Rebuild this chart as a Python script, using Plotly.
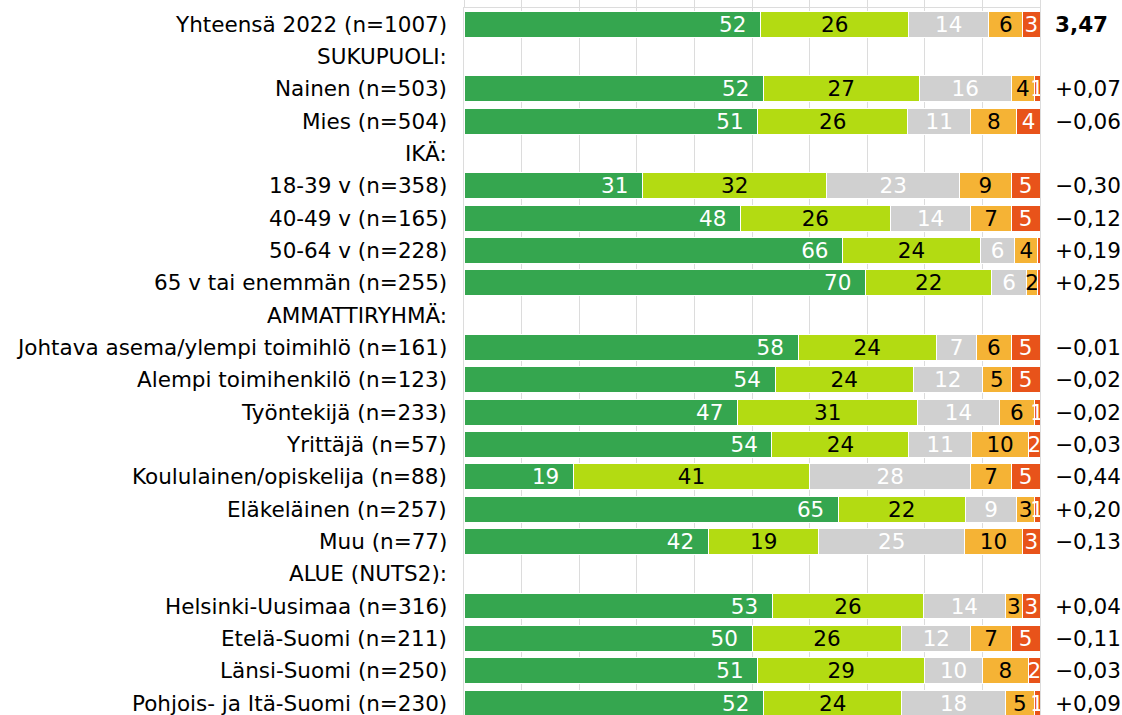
import plotly.graph_objects as go

# ---- data ----
row_labels = [
    "Yhteensä 2022 (n=1007)", "SUKUPUOLI:", "Nainen (n=503)", "Mies (n=504)",
    "IKÄ:", "18-39 v (n=358)", "40-49 v (n=165)", "50-64 v (n=228)",
    "65 v tai enemmän (n=255)", "AMMATTIRYHMÄ:",
    "Johtava asema/ylempi toimihlö (n=161)", "Alempi toimihenkilö (n=123)",
    "Työntekijä (n=233)", "Yrittäjä (n=57)", "Koululainen/opiskelija (n=88)",
    "Eläkeläinen (n=257)", "Muu (n=77)", "ALUE (NUTS2):",
    "Helsinki-Uusimaa (n=316)", "Etelä-Suomi (n=211)", "Länsi-Suomi (n=250)",
    "Pohjois- ja Itä-Suomi (n=230)",
]
# None marks a heading row without a bar
s1 = [52, None, 52, 51, None, 31, 48, 66, 70, None, 58, 54, 47, 54, 19, 65, 42, None, 53, 50, 51, 52]
s2 = [26, None, 27, 26, None, 32, 26, 24, 22, None, 24, 24, 31, 24, 41, 22, 19, None, 26, 26, 29, 24]
s3 = [14, None, 16, 11, None, 23, 14, 6, 6, None, 7, 12, 14, 11, 28, 9, 25, None, 14, 12, 10, 18]
s4 = [6, None, 4, 8, None, 9, 7, 4, 2, None, 6, 5, 6, 10, 7, 3, 10, None, 3, 7, 8, 5]
s5 = [3, None, 1, 4, None, 5, 5, 0.4, 0.4, None, 5, 5, 1, 2, 5, 1, 3, None, 3, 5, 2, 1]
means = ["3,47", "", "+0,07", "−0,06", "", "−0,30", "−0,12", "+0,19", "+0,25", "",
         "−0,01", "−0,02", "−0,02", "−0,03", "−0,44", "+0,20", "−0,13", "",
         "+0,04", "−0,11", "−0,03", "+0,09"]

series = [s1, s2, s3, s4, s5]
colors = ["#35a64f", "#b3db12", "#d0d0d0", "#f5b335", "#e8531a"]
text_colors = ["white", "black", "white", "black", "white"]
anchors = ["end", "middle", "middle", "middle", "middle"]
suffix = ["\u00a0\u2009", "", "", "", ""]

FONT = "Verdana, DejaVu Sans, sans-serif"
FS = 21.5
n = len(row_labels)
ypos = list(range(n))

totals = []
for i in range(n):
    vals = [s[i] for s in series]
    totals.append(sum(vals) if vals[0] is not None else None)

fig = go.Figure()
for k, s in enumerate(series):
    xs, txt = [], []
    for i in range(n):
        if s[i] is None:
            xs.append(None)
            txt.append("")
        else:
            xs.append(s[i] / totals[i] * 100)
            r = round(s[i])
            txt.append(str(r) + suffix[k] if r >= 1 else "")
    fig.add_trace(go.Bar(
        x=xs, y=ypos, orientation="h", width=0.8,
        marker=dict(color=colors[k], line=dict(color="white", width=1)),
        text=txt, textposition="inside", insidetextanchor=anchors[k],
        constraintext="none", textangle=0, cliponaxis=True,
        textfont=dict(family=FONT, size=FS, color=text_colors[k]),
        hoverinfo="skip", showlegend=False,
    ))

# left labels
for i, lab in enumerate(row_labels):
    fig.add_annotation(x=0, xref="paper", y=i, yref="y", text=lab,
                       xanchor="right", yanchor="middle", xshift=-15,
                       showarrow=False,
                       font=dict(family=FONT, size=FS, color="black"))
# right mean values
for i, m in enumerate(means):
    if not m:
        continue
    txt = "<b>%s</b>" % m if i == 0 else m
    fig.add_annotation(x=1, xref="paper", y=i, yref="y", text=txt,
                       xanchor="left", yanchor="middle", xshift=13,
                       showarrow=False,
                       font=dict(family=FONT, size=FS, color="black"))

fig.update_layout(
    barmode="stack", bargap=0.2,
    width=1122, height=715,
    margin=dict(l=464, r=82, t=8, b=0),
    plot_bgcolor="white", paper_bgcolor="white",
    xaxis=dict(range=[0, 100], dtick=10, showgrid=True, gridcolor="#dcdcdc",
               gridwidth=1, zeroline=False, showticklabels=False,
               side="top", ticks="outside", ticklen=7, tickcolor="#dcdcdc",
               showline=True, linecolor="#dcdcdc", linewidth=1, mirror=True),
    yaxis=dict(range=[21.37, -0.5], showticklabels=False, showgrid=False,
               zeroline=False, showline=True, linecolor="#dcdcdc",
               linewidth=1, mirror=True),
)

fig.write_html("out.html",
               config={"displayModeBar": False, "staticPlot": True},
               post_script="document.body.style.margin='0';"
                           "document.body.style.overflow='hidden';")
